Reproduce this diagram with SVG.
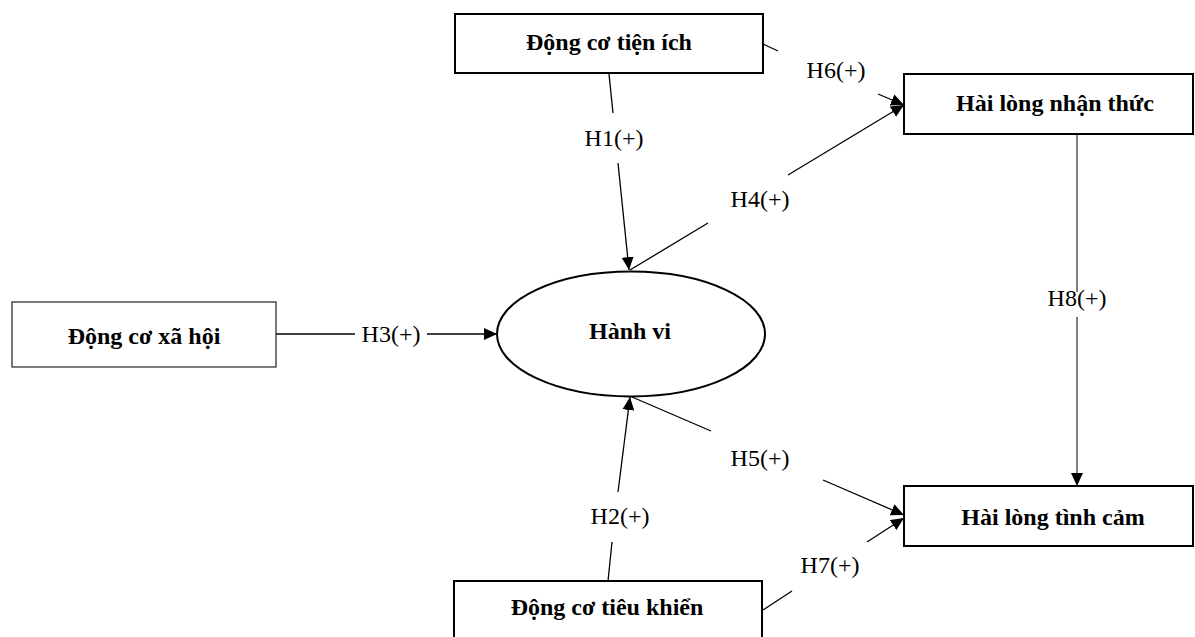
<svg xmlns="http://www.w3.org/2000/svg" width="1195" height="637" viewBox="0 0 1195 637">
<style>
.box{fill:#fff;stroke:#000;stroke-width:2}
.thin{fill:#fff;stroke:#333;stroke-width:1.3}
.nt{font-family:"Liberation Serif","Times New Roman",serif;font-weight:bold;font-size:24px;text-anchor:middle;fill:#000}
.lb{font-family:"Liberation Serif","Times New Roman",serif;font-size:24px;text-anchor:middle;fill:#000}
.ln{stroke:#000;stroke-width:1.3;fill:none}
.gl{stroke:#555;stroke-width:1.5;fill:none}
</style>
<defs>
<marker id="ah" markerUnits="userSpaceOnUse" markerWidth="14" markerHeight="12" refX="13" refY="6" orient="auto">
<path d="M0,0 L13,6 L0,12 z" fill="#000"/>
</marker>
</defs>
<rect width="1195" height="637" fill="#fff"/>
<g id="connectors">
<g id="h1"><line class="ln" x1="609" y1="74" x2="613" y2="113"/><line class="ln" x1="618" y1="163" x2="629" y2="270" marker-end="url(#ah)"/><text class="lb" x="614" y="146">H1(+)</text></g>
<g id="h4"><line class="ln" x1="630" y1="270" x2="708" y2="223"/><line class="ln" x1="788" y1="175" x2="904" y2="105" marker-end="url(#ah)"/><text class="lb" x="760" y="207">H4(+)</text></g>
<g id="h6"><line class="ln" x1="763" y1="44" x2="778" y2="51"/><line class="ln" x1="878" y1="94" x2="904" y2="105" marker-end="url(#ah)"/><text class="lb" x="836" y="78">H6(+)</text></g>
<g id="h3"><line class="ln" x1="276" y1="334" x2="355" y2="334"/><line class="ln" x1="427" y1="334" x2="497" y2="334" marker-end="url(#ah)"/><text class="lb" x="391" y="342">H3(+)</text></g>
<g id="h2"><line class="ln" x1="608" y1="581" x2="612" y2="542"/><line class="ln" x1="618" y1="492" x2="630" y2="397" marker-end="url(#ah)"/><text class="lb" x="620" y="524">H2(+)</text></g>
<g id="h5"><line class="ln" x1="632" y1="397" x2="711" y2="431"/><line class="ln" x1="823" y1="480" x2="904" y2="515" marker-end="url(#ah)"/><text class="lb" x="760" y="466">H5(+)</text></g>
<g id="h7"><line class="ln" x1="763" y1="610" x2="792" y2="591"/><line class="ln" x1="867" y1="542" x2="904" y2="518" marker-end="url(#ah)"/><text class="lb" x="830" y="573">H7(+)</text></g>
<g id="h8"><line class="gl" x1="1077" y1="134" x2="1077" y2="292"/><line class="gl" x1="1077" y1="317" x2="1077" y2="486" marker-end="url(#ah)"/><text class="lb" x="1077" y="306">H8(+)</text></g>
</g>
<g id="dong-co-tien-ich"><rect class="box" x="455" y="14" width="308" height="59"/><text class="nt" x="609" y="50">Động cơ tiện ích</text></g>
<g id="hai-long-nhan-thuc"><rect class="box" x="904" y="74" width="289" height="60"/><text class="nt" x="1055" y="111">Hài lòng nhận thức</text></g>
<g id="dong-co-xa-hoi"><rect class="thin" x="12" y="302" width="264" height="65"/><text class="nt" x="144" y="344">Động cơ xã hội</text></g>
<g id="hanh-vi"><ellipse cx="631" cy="334" rx="134" ry="62.5" fill="#fff" stroke="#000" stroke-width="2"/><text class="nt" x="630" y="339">Hành vi</text></g>
<g id="hai-long-tinh-cam"><rect class="box" x="904" y="486" width="289" height="60"/><text class="nt" x="1053" y="525">Hài lòng tình cảm</text></g>
<g id="dong-co-tieu-khien"><rect class="box" x="454" y="581" width="308" height="70"/><text class="nt" x="607" y="615">Động cơ tiêu khiển</text></g>
</svg>
